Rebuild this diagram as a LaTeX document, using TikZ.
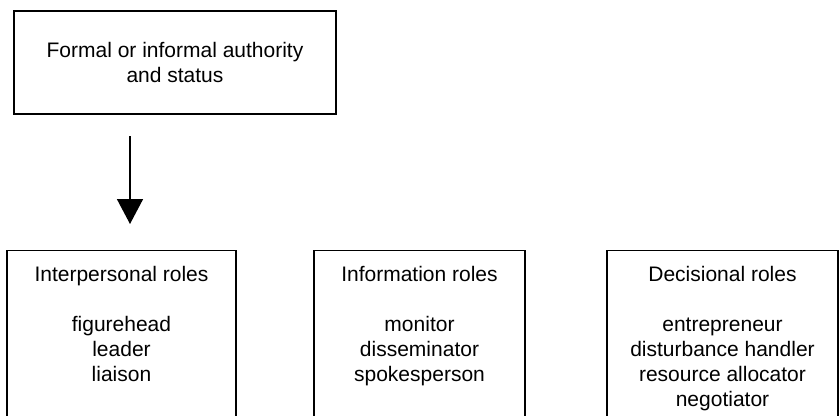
\documentclass[tikz,border=0pt]{standalone}
\usepackage{fontspec}
\setmainfont{Liberation Sans}
\usetikzlibrary{arrows.meta}
\begin{document}
\begin{tikzpicture}[x=1pt,y=-1pt,
  box/.style={draw=black,line width=1.6pt,inner sep=0pt,fill=none},
  label/.style={inner sep=0pt,align=center,font=\fontsize{21}{25}\selectfont},
  flow/.style={line width=1.6pt,-{Triangle[width=26pt,length=25pt]}}]
  \useasboundingbox (0,0) rectangle (840,415);
  \clip (0,0) rectangle (840,415);
  % source of authority
  \node[box,minimum width=322pt,minimum height=103pt] (auth) at (175,62.5) {};
  \node[label] (authtxt) at (auth.center) {Formal or informal authority\\and status};
  % arrow down to the role groups
  \coordinate (arrS) at (130,136);
  \coordinate (arrE) at (130,224);
  \draw[flow] (arrS) -- (arrE);
  % the three role groups (boxes run past the lower edge)
  \node[box,minimum width=229pt,minimum height=220pt,anchor=north] (inter) at (121.5,249.5) {};
  \node[box,minimum width=211pt,minimum height=220pt,anchor=north] (info) at (419.5,249.5) {};
  \node[box,minimum width=231pt,minimum height=220pt,anchor=north] (dec) at (722.5,249.5) {};
  \node[label,anchor=north] (intertxt) at ([yshift=-16.5pt]inter.north) {Interpersonal roles\\[25pt]figurehead\\leader\\liaison};
  \node[label,anchor=north] (infotxt) at ([yshift=-16.5pt]info.north) {Information roles\\[25pt]monitor\\disseminator\\spokesperson};
  \node[label,anchor=north] (dectxt) at ([yshift=-16.5pt]dec.north) {Decisional roles\\[25pt]entrepreneur\\disturbance handler\\resource allocator\\negotiator};
\end{tikzpicture}
\end{document}
